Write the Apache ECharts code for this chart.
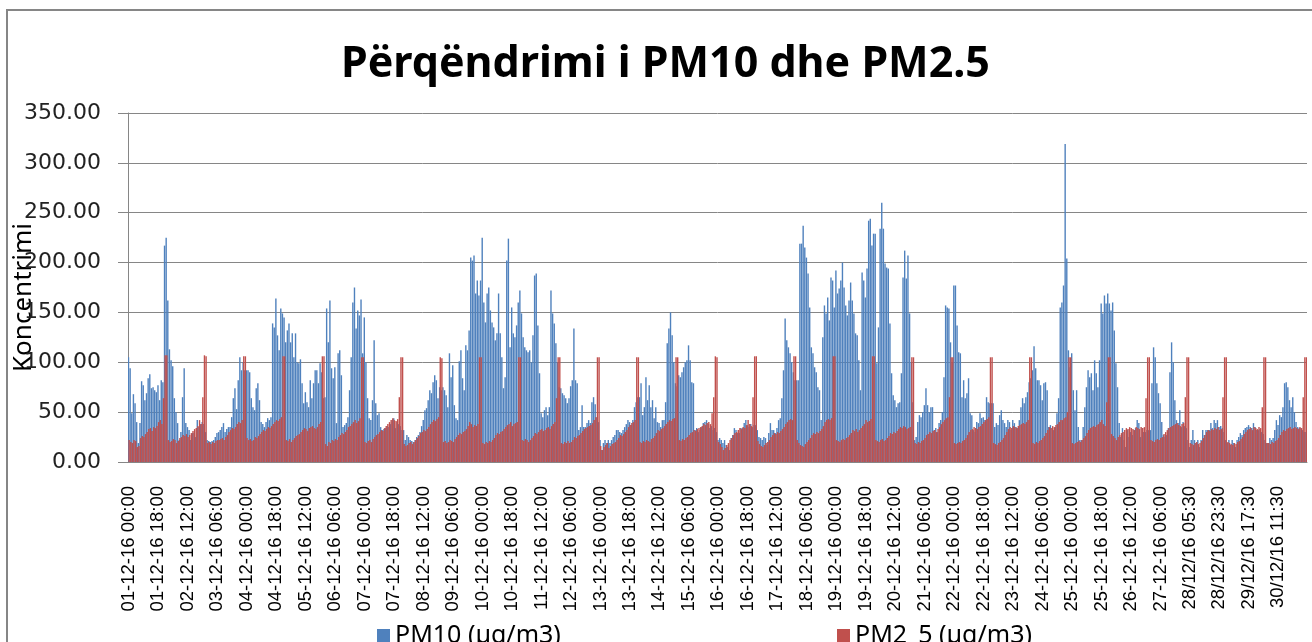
<!DOCTYPE html>
<html>
<head>
<meta charset="utf-8">
<title>Përqëndrimi i PM10 dhe PM2.5</title>
<script src="https://cdn.jsdelivr.net/npm/echarts@6/dist/echarts.min.js"></script>
<style>
  html, body { margin: 0; padding: 0; background: #fff; }
  #chart { width: 1312px; height: 642px; }
</style>
</head>
<body>
<div id="chart"></div>
<script>
// etiketat e boshtit X (cdo 18 ore)
var tickLabels = ['01-12-16 00:00','01-12-16 18:00','02-12-16 12:00','03-12-16 06:00','04-12-16 00:00',
  '04-12-16 18:00','05-12-16 12:00','06-12-16 06:00','07-12-16 00:00','07-12-16 18:00','08-12-16 12:00',
  '09-12-16 06:00','10-12-16 00:00','10-12-16 18:00','11-12-16 12:00','12-12-16 06:00','13-12-16 00:00',
  '13-12-16 18:00','14-12-16 12:00','15-12-16 06:00','16-12-16 00:00','16-12-16 18:00','17-12-16 12:00',
  '18-12-16 06:00','19-12-16 00:00','19-12-16 18:00','20-12-16 12:00','21-12-16 06:00','22-12-16 00:00',
  '22-12-16 18:00','23-12-16 12:00','24-12-16 06:00','25-12-16 00:00','25-12-16 18:00','26-12-16 12:00',
  '27-12-16 06:00','28/12/16 05:30','28/12/16 23:30','29/12/16 17:30','30/12/16 11:30'];

// PM10, vlera orare (nje rresht = nje dite)
var pm10 = [
  105,94,49,68,59,40,19,39,81,77,62,69,84,88,74,75,72,70,77,62,82,80,217,225,
  162,113,102,96,64,50,39,22,30,65,94,39,35,32,22,29,29,25,42,35,38,40,38,30,
  22,21,20,21,22,25,29,30,32,35,39,30,33,35,35,45,64,74,53,82,105,92,100,92,
  92,92,90,64,55,52,74,79,62,40,38,35,40,44,42,45,139,135,164,127,112,154,149,145,
  120,132,139,120,129,105,129,100,99,103,79,59,70,60,55,82,64,79,92,92,79,99,90,64,
  65,154,120,162,94,84,95,39,109,112,87,35,37,39,45,72,105,160,175,134,152,147,163,109,
  145,100,64,44,42,62,122,59,47,49,35,32,33,34,36,35,38,42,44,34,40,38,36,32,
  32,22,27,25,22,21,20,22,25,27,30,36,42,52,54,62,72,69,80,87,82,64,75,72,
  75,72,67,55,109,85,97,57,44,42,101,112,84,72,117,112,132,205,202,207,169,182,167,182,
  225,160,140,169,175,152,140,135,122,129,169,129,105,74,85,202,224,115,155,129,125,137,160,172,
  149,125,115,112,110,112,100,127,187,189,137,89,49,45,52,55,47,55,172,149,139,119,100,75,
  74,69,67,64,59,64,76,82,134,82,79,32,35,57,35,35,39,42,39,60,65,58,45,40,
  22,12,19,22,19,22,19,22,25,27,32,32,30,29,32,35,38,42,40,37,42,55,60,65,
  65,79,47,55,85,62,77,55,62,44,55,40,39,35,42,42,60,119,134,150,127,100,79,76,
  87,85,90,95,100,102,117,102,80,79,32,34,30,32,35,39,40,42,38,34,36,32,34,30,
  22,24,22,19,22,17,15,12,24,27,34,32,29,29,34,34,39,42,37,35,38,35,37,37,
  32,25,24,22,25,24,17,29,39,32,32,29,34,42,44,64,92,144,122,115,109,100,90,82,
  82,82,219,219,237,215,205,189,155,115,109,95,90,75,72,42,125,157,149,165,142,185,182,155,
  192,169,174,182,200,175,157,147,162,180,162,149,129,127,102,72,190,182,165,194,242,244,217,229,
  229,99,135,234,260,234,199,195,194,139,89,67,62,55,59,60,89,185,212,184,207,149,100,60,
  22,25,40,47,45,50,57,74,57,50,55,55,32,34,30,39,42,50,85,157,155,154,120,100,
  177,177,137,110,109,65,82,64,69,84,49,47,32,30,40,39,49,44,45,42,65,60,59,59,
  59,35,39,37,47,52,42,39,35,42,40,32,42,39,35,34,42,55,64,59,65,70,80,84,
  92,116,94,82,82,77,62,79,80,72,35,37,34,32,35,49,64,155,160,177,319,204,112,95,
  109,72,52,72,35,22,22,35,55,75,92,85,89,72,102,89,75,102,159,149,167,159,169,159,
  152,160,132,99,75,39,25,34,22,15,32,25,30,27,32,34,42,39,25,34,30,30,32,32,
  32,79,115,105,79,69,59,40,27,25,27,34,90,120,100,62,42,39,52,35,40,36,34,22,
  15,22,32,22,19,22,15,22,32,27,32,32,32,39,34,42,39,42,35,36,34,30,22,19,
  22,17,22,19,15,22,25,29,27,32,34,35,37,35,34,39,35,32,32,33,30,28,22,19,
  19,24,22,24,32,42,37,47,45,55,79,80,75,62,55,65,50,40,35,34,34,32,30,30
];

// PM2.5, vlera orare (nje rresht = nje dite)
var pm25 = [
  22,20,19,22,21,15,16,24,26,25,28,30,33,34,31,35,34,36,40,42,38,64,107,107,
  22,20,21,23,22,19,21,24,25,27,26,28,25,27,29,31,33,34,36,42,38,65,107,106,
  19,20,18,20,19,21,22,22,23,24,22,25,27,30,32,34,33,35,38,40,39,42,106,106,
  24,22,23,21,22,25,24,26,28,30,32,31,33,35,34,36,38,40,42,41,43,45,106,106,
  22,21,23,20,22,24,26,27,28,30,32,34,33,31,34,35,36,34,33,35,38,40,106,106,
  18,16,20,19,22,21,23,22,25,27,29,28,30,32,35,36,38,40,42,39,41,44,105,105,
  20,19,21,22,20,23,25,27,28,30,32,31,34,36,38,40,42,44,42,41,43,65,105,105,
  18,16,17,19,20,18,20,22,24,26,29,30,32,31,33,35,38,40,42,41,43,45,105,104,
  20,21,19,20,22,21,20,23,25,27,29,28,30,31,33,36,40,38,35,37,36,38,105,105,
  19,18,20,19,21,20,22,24,27,29,28,30,31,33,35,37,38,40,36,38,39,40,105,105,
  22,21,23,22,20,22,24,26,29,28,30,32,33,31,32,34,35,33,36,38,40,64,105,105,
  19,18,20,19,21,19,20,22,25,24,26,27,29,31,33,34,35,36,37,39,42,45,105,105,
  16,12,15,17,19,14,16,18,19,20,22,24,27,26,28,30,32,35,37,39,40,42,105,105,
  20,19,21,20,22,21,20,23,24,26,29,32,31,33,34,36,38,40,42,41,43,44,105,105,
  22,21,23,22,24,25,27,29,30,32,31,33,34,35,36,38,37,39,40,38,49,65,106,105,
  20,18,15,12,14,17,19,22,24,27,29,30,32,34,33,35,34,37,42,38,36,65,106,106,
  21,18,16,15,17,19,20,22,25,27,29,28,30,29,31,33,35,38,40,42,43,42,106,106,
  22,19,17,16,15,18,20,22,24,27,29,28,30,29,31,33,36,40,42,43,42,44,106,106,
  22,21,20,22,23,22,24,25,27,29,32,31,33,30,32,34,36,38,42,40,41,43,106,106,
  22,21,20,22,23,21,22,24,26,29,28,30,29,31,33,35,34,36,35,33,34,35,105,105,
  19,18,20,19,21,22,24,27,28,30,29,31,32,30,33,35,38,40,42,44,45,65,105,105,
  19,18,19,20,19,21,22,24,27,30,32,33,35,34,33,35,36,38,40,42,43,45,105,105,
  19,18,17,19,20,22,24,27,30,33,35,34,36,35,34,36,37,38,39,38,40,42,105,105,
  19,18,20,19,21,22,24,26,29,32,35,34,36,35,37,38,40,42,42,44,45,50,105,105,
  19,18,19,20,21,20,22,24,26,29,32,34,35,36,35,37,38,40,42,38,36,60,105,105,
  28,26,24,22,25,27,29,30,32,34,33,35,34,33,32,35,34,33,35,34,35,64,105,105,
  22,21,20,22,23,22,24,25,28,30,32,34,35,36,37,38,39,37,36,38,39,65,105,105,
  19,18,17,19,20,18,19,21,24,27,30,32,31,33,32,34,33,35,32,33,65,105,105,20,
  19,18,17,19,18,20,21,23,25,28,30,32,33,34,32,35,34,33,35,34,55,105,105,19,
  19,18,20,19,21,22,24,27,30,32,31,33,34,35,33,34,35,34,33,35,34,65,105,105
];

// kategorite: vetem cdo e 18-ta ka etikete te dukshme
var categories = pm10.map(function (v, i) {
  return i % 18 === 0 ? tickLabels[i / 18] : 'h' + i;
});

var blue = '#4F81BD';
var red = '#C0504D';
var gridGray = '#868686';

var option = {
  animation: false,
  backgroundColor: '#fff',
  title: {
    text: 'Përqëndrimi i PM10 dhe PM2.5',
    left: 336,
    top: 38,
    textStyle: { fontFamily: 'Noto Sans', fontWeight: 'bold', fontSize: 43, color: '#000' }
  },
  graphic: [{
    type: 'rect',
    silent: true,
    z: -10,
    shape: { x: 7, y: 10, width: 1400, height: 700 },
    style: { fill: 'none', stroke: gridGray, lineWidth: 2 }
  }],
  legend: [{
    data: ['PM10 (µg/m3)'],
    left: 372,
    top: 618,
    icon: 'rect',
    itemWidth: 13,
    itemHeight: 13,
    textStyle: { fontFamily: 'Noto Sans', fontSize: 25, color: '#000' }
  }, {
    data: ['PM2_5 (µg/m3)'],
    left: 832,
    top: 618,
    icon: 'rect',
    itemWidth: 13,
    itemHeight: 13,
    textStyle: { fontFamily: 'Noto Sans', fontSize: 25, color: '#000' }
  }],
  grid: { left: 128, right: 5, top: 113, bottom: 180, outerBoundsMode: 'none', containLabel: false },
  xAxis: {
    type: 'category',
    data: categories,
    axisTick: { show: false },
    axisLine: { lineStyle: { color: gridGray } },
    axisLabel: {
      interval: 17,
      rotate: 90,
      margin: 24,
      fontFamily: 'Liberation Sans',
      fontSize: 18.5,
      color: '#000'
    }
  },
  yAxis: {
    type: 'value',
    min: 0,
    max: 350,
    interval: 50,
    name: 'Koncentrimi',
    nameLocation: 'middle',
    nameGap: 91,
    nameMoveOverlap: false,
    nameTextStyle: { fontFamily: 'Noto Sans', fontSize: 26, color: '#000', padding: [0, 20, 0, 0] },
    axisLine: { show: true, lineStyle: { color: gridGray } },
    axisTick: { show: true, length: 10, lineStyle: { color: gridGray } },
    splitLine: { lineStyle: { color: gridGray } },
    axisLabel: {
      margin: 27,
      fontFamily: 'DejaVu Sans',
      fontSize: 22,
      color: '#222',
      formatter: function (v) { return v.toFixed(2); }
    }
  },
  series: [{
    name: 'PM10 (µg/m3)',
    type: 'bar',
    data: pm10,
    barWidth: 1.4,
    barGap: '-55%',
    itemStyle: { color: blue }
  }, {
    name: 'PM2_5 (µg/m3)',
    type: 'bar',
    data: pm25,
    barWidth: 1.4,
    itemStyle: { color: red }
  }]
};

var myChart = echarts.init(document.getElementById('chart'));
myChart.setOption(option);
</script>
</body>
</html>
